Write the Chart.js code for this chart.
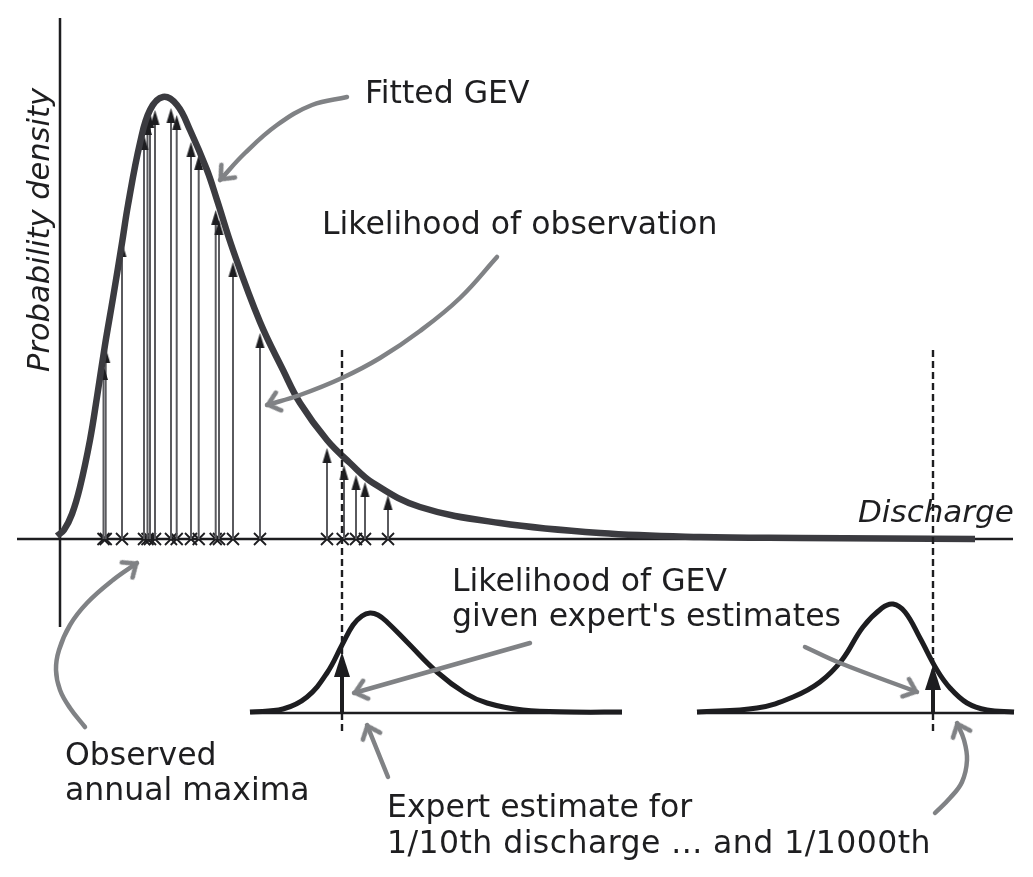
<!DOCTYPE html>
<html>
<head>
<meta charset="utf-8">
<title>Fitted GEV</title>
<script src="https://cdn.jsdelivr.net/npm/chart.js@4"></script>
<style>
    html, body { margin: 0; padding: 0; background: #fff; }
    canvas { display: block; }
</style>
</head>
<body>
<canvas id="gevChart" width="1033" height="877"></canvas>
<script>
const gevX = [57, 64, 72, 80, 90, 97, 105, 113, 122, 128, 140, 150, 163, 177, 190, 207, 217, 233, 260, 283, 300, 327, 350, 373, 420, 500, 600, 700, 800, 975];
const gevY = [536, 530, 514, 487, 440, 397, 345, 298, 243, 205, 143, 110, 97, 105, 130, 170, 200, 250, 322, 370, 403, 440, 463, 483, 507, 523, 533, 537, 538, 539];

const obsX = [103.5, 105.7, 122, 144, 147.5, 150, 155, 171, 176.7, 191, 198.7, 215.7, 219, 233, 260, 327, 344, 356, 365, 388];
const obsLikelihood = [365, 348, 242, 135, 120, 113, 110, 108, 115, 142, 155, 210, 220, 262, 333, 448, 465, 475, 482, 495];
const crossX = [103.5, 105.7, 122, 144, 147.5, 150, 155, 171, 176.7, 191, 198.7, 215.7, 219, 233, 260, 327, 342.7, 356, 365, 388];

const expert10X = [250, 283, 307, 327, 342, 353, 362, 370, 378, 387, 407, 437, 465, 487, 523, 573, 622];
const expert10Y = [712, 709, 697, 673, 645, 625, 616, 613, 615, 622, 642, 672, 693, 703, 710, 712, 712];
const expert1000X = [697, 757, 793, 820, 842, 863, 882, 893, 905, 920, 937, 950, 967, 987, 1014];
const expert1000Y = [712, 708, 697, 682, 660, 627, 608, 604, 612, 638, 670, 688, 703, 710, 712];

const estimateX = [342, 933];
const estimateTip = [652, 665];

// grey callout arrows, the last point is the tip
const callouts = [
    { x: [347, 312, 277, 245, 220], y: [97, 105, 125, 153, 180] },
    { x: [497, 460, 420, 380, 342, 300, 267], y: [257, 298, 331, 358, 378, 395, 405] },
    { x: [85, 70, 60, 56, 59, 70, 87, 113, 137], y: [727, 708, 690, 670, 650, 625, 603, 580, 563] },
    { x: [530, 354], y: [643, 693] },
    { x: [805, 840, 917], y: [647, 663, 692] },
    { x: [388, 367], y: [777, 725] },
    { x: [935, 950, 962, 967, 964, 957], y: [813, 798, 782, 760, 740, 723] }
];

const labelTexts = ['Fitted GEV', 'Likelihood of observation', 'Likelihood of GEV', "given expert's estimates",
    'Observed', 'annual maxima', 'Expert estimate for', '1/10th discharge ... and 1/1000th', 'Discharge', 'Probability density'];

// where each text sits, same order as labelTexts
const labelLayout = [
    { x: 365, y: 103 },
    { x: 322, y: 234 },
    { x: 452, y: 591 },
    { x: 452, y: 626 },
    { x: 65, y: 765 },
    { x: 65, y: 800 },
    { x: 387, y: 817 },
    { x: 387, y: 853, spacing: '0.45px' },
    { x: 858, y: 522, italic: true, size: 31 },
    { x: 49, y: 372, italic: true, rotate: true, size: 30.5 }
];

const INK = '#1d1d20';
const GREY = '#808285';

function toPoints(xs, ys) {
    return xs.map((x, i) => ({ x: x, y: ys[i] }));
}

// arrow head with its tip in the middle of the canvas, pointing up
function solidHead(w, h, color) {
    const c = document.createElement('canvas');
    c.width = w + 2;
    c.height = h * 2 + 2;
    const g = c.getContext('2d');
    g.fillStyle = color;
    g.beginPath();
    g.moveTo(c.width / 2, c.height / 2);
    g.lineTo(c.width / 2 + w / 2, c.height / 2 + h);
    g.lineTo(c.width / 2 - w / 2, c.height / 2 + h);
    g.closePath();
    g.fill();
    return c;
}

function openHead(size, color) {
    const c = document.createElement('canvas');
    c.width = size * 2 + 8;
    c.height = size * 2 + 8;
    const g = c.getContext('2d');
    const m = c.width / 2;
    g.strokeStyle = color;
    g.lineWidth = 4.5;
    g.lineCap = 'round';
    g.lineJoin = 'round';
    g.beginPath();
    g.moveTo(m - size * 0.62, m + size * 0.8);
    g.lineTo(m, m + 1);
    g.lineTo(m + size * 0.62, m + size * 0.8);
    g.stroke();
    return c;
}

const thinHead = solidHead(9, 15, INK);
const bigHead = solidHead(16, 25, INK);
const greyHead = openHead(15, GREY);

function line(data, color, width, extra) {
    return Object.assign({
        data: data,
        showLine: true,
        borderColor: color,
        borderWidth: width,
        pointRadius: 0,
        tension: 0,
        borderCapStyle: 'butt'
    }, extra || {});
}

function calloutSet(a) {
    const n = a.x.length;
    const angle = Math.atan2(a.x[n - 1] - a.x[n - 2], a.y[n - 2] - a.y[n - 1]) * 180 / Math.PI;
    return line(toPoints(a.x, a.y), GREY, 4.5, {
        tension: 0.4,
        borderCapStyle: 'round',
        pointRadius: a.x.map((x, i) => (i === n - 1 ? 10 : 0)),
        pointStyle: greyHead,
        pointRotation: angle
    });
}

const datasets = [];

// first in the list is drawn on top
callouts.forEach(a => datasets.push(calloutSet(a)));

estimateX.forEach((x, i) => {
    datasets.push(line([{ x: x, y: estimateTip[i] }], INK, 0, { pointRadius: 10, pointStyle: bigHead }));
    datasets.push(line([{ x: x, y: 712 }, { x: x, y: estimateTip[i] + 20 }], INK, 4));
});

datasets.push(line(toPoints(expert10X, expert10Y), INK, 5, { tension: 0.4 }));
datasets.push(line(toPoints(expert1000X, expert1000Y), INK, 5, { tension: 0.4 }));
datasets.push(line([{ x: 250, y: 713 }, { x: 622, y: 713 }], INK, 2.5));
datasets.push(line([{ x: 697, y: 713 }, { x: 1014, y: 713 }], INK, 2.5));

estimateX.forEach(x => {
    datasets.push(line([{ x: x, y: 350 }, { x: x, y: 732 }], INK, 2.4, { borderDash: [7, 4] }));
});

datasets.push(line(toPoints(gevX, gevY), '#3b3b40', 6.5, { tension: 0.4 }));

datasets.push(line(toPoints(obsX, obsLikelihood), INK, 0, { showLine: false, pointRadius: 10, pointStyle: thinHead }));
obsX.forEach((x, i) => {
    datasets.push(line([{ x: x, y: 539 }, { x: x, y: obsLikelihood[i] + 10 }], '#5a5a5e', 2));
});

datasets.push(line(toPoints(crossX, crossX.map(() => 539)), INK, 0, {
    showLine: false,
    pointRadius: 8.5,
    pointStyle: 'crossRot',
    pointBorderColor: INK,
    pointBorderWidth: 1.8
}));

// axes
datasets.push(line([{ x: 17, y: 539 }, { x: 1013, y: 539 }], INK, 2.5));
datasets.push(line([{ x: 60, y: 18 }, { x: 60, y: 627 }], INK, 2.5));

const textPlugin = {
    id: 'textLabels',
    afterDatasetsDraw(chart) {
        const g = chart.ctx;
        const sx = chart.scales.x;
        const sy = chart.scales.y;
        labelTexts.forEach((text, i) => {
            const l = labelLayout[i];
            g.save();
            g.fillStyle = '#1e1e20';
            g.font = (l.italic ? 'italic ' : '') + (l.size || 31.5) + 'px "DejaVu Sans"';
            g.letterSpacing = l.spacing || '0px';
            g.textBaseline = 'alphabetic';
            g.translate(sx.getPixelForValue(l.x), sy.getPixelForValue(l.y));
            if (l.rotate) g.rotate(-Math.PI / 2);
            g.fillText(text, 0, 0);
            g.restore();
        });
    }
};

new Chart(document.getElementById('gevChart').getContext('2d'), {
    type: 'scatter',
    data: { datasets: datasets },
    plugins: [textPlugin],
    options: {
        responsive: false,
        animation: false,
        layout: { padding: 0, autoPadding: false },
        scales: {
            x: { type: 'linear', display: false, min: 0, max: 1033 },
            y: { type: 'linear', display: false, min: 0, max: 877, reverse: true }
        },
        plugins: {
            legend: { display: false },
            tooltip: { enabled: false }
        }
    }
});
</script>
</body>
</html>
